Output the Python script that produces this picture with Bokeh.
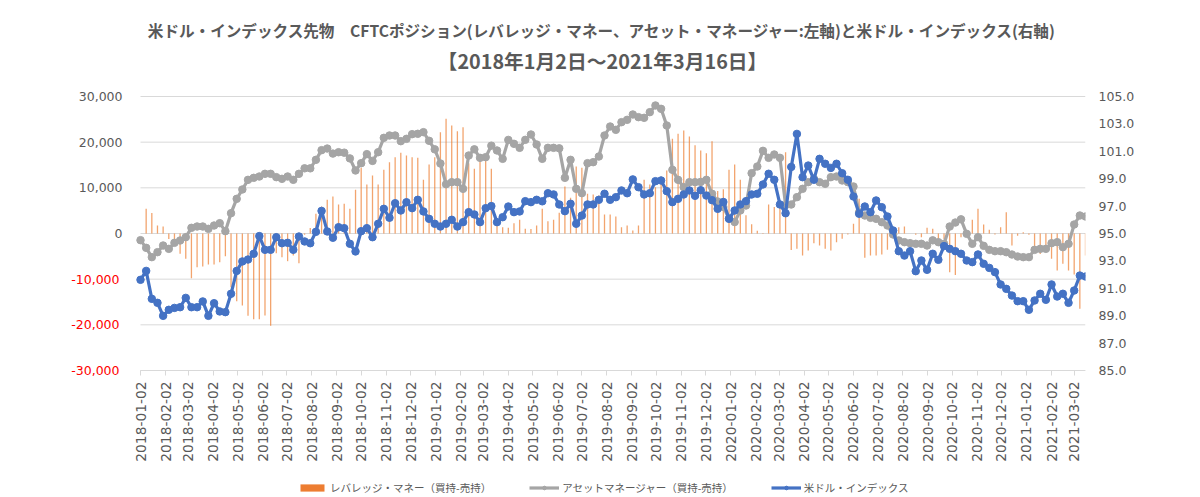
import math
import pandas as pd
from bokeh.plotting import figure
from bokeh.models import (Range1d, LinearAxis, FixedTicker, NumeralTickFormatter, PrintfTickFormatter,
                          DatetimeTickFormatter, Legend, LegendItem, Label, ColumnDataSource)
from bokeh.embed import file_html
from bokeh.resources import INLINE

# ---------------- data ----------------
START_DATE = "2018-01-02"   # weekly (Tuesday) observations

# Leveraged money net position (long - short), left axis
leveraged = [
    0, 5400, 4500, 1750, 1530, -1200, -1600, -4450, -5550, -9780,
    -7370, -7230, -6790, -6790, -6280, -4960, -11750, -14820, -15770, -18030,
    -18760, -18760, -17960, -20220, -4310, -5180, -6060, -4820, -6500, -300,
    1200, 4310, 5910, 7370, 8100, 6350, 6500, 5400, 9560, 14380,
    10730, 12700, 10730, 13940, 15620, 16720, 17670, 17080, 16720, 16570,
    11750, 15110, 16720, 22190, 25110, 23650, 22410, 23290, 15400, 14160,
    15990, 15990, 14160, 2000, 1390, 1240, 2260, 3000, 1020, 1000,
    1750, 5400, 2700, 3000, 4560, 10290, 7810, 14670, 14380, 8690,
    8540, 8320, 4160, 4160, 3720, 1390, 1750, 660, 1750, 11750,
    10730, 10150, 12480, 13800, 20730, 21830, 22560, 21240, 19300, 18180,
    17590, 20220, 9300, 9700, 13940, 15110, 11750, 4000, 2000, 600,
    100, 6350, 5800, 6700, 17810, -3600, -3360, -4820, -3720, -2120,
    -2630, -3360, -3720, -1900, -1170, -220, 2120, 7590, -5330, -4820,
    -4820, -4600, -3580, -1000, 1390, 1530, 0, -300, -800, 1240,
    1020, -2600, -1200, -8470, -9100, -800, -500, 3000, 5400, 1970,
    800, -220, 1390, 4670, -2630, -500, 300, -300, -3580, -4500,
    -3580, -5550, -8100, -6640, -8100, -9000, -16500, -4820,
]

# Asset manager net position (long - short), left axis
asset_mgr = [
    -1460, -3140, -5180, -4090, -2630, -3360, -2040, -1530, -800, 1240,
    1530, 1530, 1020, 1750, 2260, 510, 4450, 7590, 9640, 11750,
    12190, 12480, 13070, 13070, 12340, 11970, 12480, 11750, 13070, 14270,
    14270, 16130, 18250, 18600, 17500, 17800, 17700, 16450, 13800, 15400,
    17380, 15900, 17800, 20950, 21460, 21460, 20220, 20730, 21750, 21830,
    22190, 20300, 18430, 15330, 10800, 11240, 11240, 9780, 17080, 18430,
    16570, 16720, 19230, 18180, 16350, 20500, 19640, 18760, 20510, 21680,
    19490, 16350, 18760, 18760, 18650, 12190, 16130, 9780, 8830, 15400,
    15620, 16860, 21460, 23430, 22700, 24380, 24890, 26060, 25480, 25330,
    26570, 28030, 27300, 23650, 13940, 11750, 10150, 11240, 11240, 11300,
    11750, 8700, 7000, 5800, 3300, 2500, 5040, 6130, 13210, 14670,
    18100, 16570, 17300, 16570, 6200, 6350, 7960, 9780, 11240, 11970,
    11240, 10880, 12340, 12480, 11610, 11240, 10290, 4670, 3940, 3430,
    3210, 2480, 1750, -220, -1530, -1900, -2120, -2260, -2260, -2630,
    -1500, -1900, -2260, 1530, 2400, 3100, -70, -2260, -800, -2700,
    -3580, -3870, -3870, -4090, -4600, -5040, -5180, -5180, -3580, -3360,
    -3360, -2120, -1900, -2990, -2260, 1970, 3940, 3720,
]

# US dollar index, right axis
dxy = [
    91.62, 92.27, 90.23, 89.94, 88.99, 89.43, 89.57, 89.62, 90.30, 89.62,
    89.62, 90.04, 88.99, 89.91, 89.31, 89.26, 90.60, 92.27, 92.96, 93.10,
    93.52, 94.81, 93.81, 93.81, 94.73, 94.29, 94.32, 93.81, 94.78, 94.42,
    94.29, 95.12, 96.65, 95.15, 94.69, 95.46, 95.39, 94.25, 93.69, 95.17,
    95.39, 94.73, 95.71, 96.80, 96.15, 97.21, 96.68, 97.28, 96.85, 97.46,
    96.61, 96.07, 95.71, 95.51, 95.71, 96.00, 95.51, 95.83, 96.56, 96.39,
    95.83, 96.85, 97.00, 95.83, 96.19, 96.97, 96.56, 96.61, 97.36, 97.29,
    97.46, 97.35, 97.94, 97.85, 97.12, 96.63, 97.17, 95.71, 96.31, 97.12,
    97.12, 97.46, 97.90, 97.46, 97.65, 98.14, 97.94, 98.95, 98.38, 97.85,
    97.94, 98.82, 98.87, 98.09, 97.29, 97.53, 97.85, 98.14, 97.75, 98.16,
    97.77, 97.43, 96.80, 97.30, 96.07, 96.68, 97.12, 97.36, 97.85, 97.90,
    98.58, 99.36, 98.92, 97.12, 96.48, 99.86, 102.27, 99.11, 99.96, 98.92,
    100.45, 100.09, 99.79, 100.09, 99.40, 98.92, 97.70, 96.44, 96.97, 96.56,
    97.41, 96.92, 96.24, 95.22, 93.71, 93.39, 93.71, 92.25, 93.03, 92.35,
    93.52, 93.08, 94.08, 93.88, 93.71, 93.52, 93.03, 92.91, 93.47, 92.79,
    92.49, 92.18, 91.28, 90.96, 90.47, 90.06, 90.06, 89.43, 90.11, 90.60,
    90.16, 91.28, 90.40, 90.60, 89.94, 90.84, 91.93, 91.86,
]

left_ticks = [-30000, -20000, -10000, 0, 10000, 20000, 30000]
right_ticks = [85.0, 87.0, 89.0, 91.0, 93.0, 95.0, 97.0, 99.0, 101.0, 103.0, 105.0]
first_tick_month = "2018-01-01"
last_tick_month = "2021-03-01"

title_line1 = "米ドル・インデックス先物　CFTCポジション(レバレッジ・マネー、アセット・マネージャー:左軸)と米ドル・インデックス(右軸)"
title_line2 = "【2018年1月2日～2021年3月16日】"
legend_labels = ["レバレッジ・マネー（買持-売持）", "アセットマネージャー（買持-売持）", "米ドル・インデックス"]

# ---------------- layout constants (pixels) ----------------
W, H = 1200, 497
FRAME_L, FRAME_R = 128, 1085          # drawing frame (a little wider on the left for the first date label)
DATA_L = 140                          # pixel column of the first observation / start of gridlines
AX_TOP, AX_BOT = 96, 370              # pixel rows of the +30,000 / -30,000 lines
L_MIN, L_MAX = left_ticks[0], left_ticks[-1]
R_MIN, R_MAX = right_ticks[0], right_ticks[-1]
l_per_px = (L_MAX - L_MIN) / (AX_BOT - AX_TOP)
r_per_px = (R_MAX - R_MIN) / (AX_BOT - AX_TOP)
l_range = Range1d(L_MIN - (H - AX_BOT) * l_per_px, L_MAX + AX_TOP * l_per_px)
r_range = Range1d(R_MIN - (H - AX_BOT) * r_per_px, R_MAX + AX_TOP * r_per_px)

def left_val_at(py):
    return L_MAX - (py - AX_TOP) * l_per_px

# ---------------- build ----------------
dates = pd.date_range(START_DATE, periods=len(dxy), freq="7D")
epoch = pd.Timestamp("1970-01-01")
ms = [int((d - epoch) // pd.Timedelta(milliseconds=1)) for d in dates]
month_ticks = pd.date_range(first_tick_month, last_tick_month, freq="MS") + pd.Timedelta(days=1)
month_ms = [int((t - epoch) // pd.Timedelta(milliseconds=1)) for t in month_ticks]
ms_per_px = (ms[-1] - ms[0]) / (FRAME_R - DATA_L)
x_range = Range1d(ms[0] - (DATA_L - FRAME_L) * ms_per_px, ms[-1])

src = ColumnDataSource(data=dict(x=dates, lev=leveraged, am=asset_mgr, dxy=dxy))
grid_src = ColumnDataSource(data=dict(x0=[dates[0]] * len(left_ticks), x1=[dates[-1]] * len(left_ticks),
                                      y=left_ticks))

GREY_TXT = "#595959"
NUM_FONT = "DejaVu Sans"
JP_FONT = "Noto Sans CJK JP"
LBL_SIZE = "12.5px"

p = figure(frame_width=FRAME_R - FRAME_L, frame_height=H, x_axis_type="datetime",
           x_range=x_range, y_range=l_range,
           output_backend="svg", toolbar_location=None, title=None,
           min_border_left=FRAME_L, min_border_right=W - FRAME_R, min_border_top=0, min_border_bottom=0,
           background_fill_color="white", border_fill_color="white", outline_line_color=None)
p.extra_y_ranges = {"dxy": r_range}

# horizontal gridlines spanning only the data period
p.xgrid.grid_line_color = None
p.ygrid.grid_line_color = None
p.segment(x0="x0", x1="x1", y0="y", y1="y", source=grid_src, line_color="#D9D9D9", line_width=1)

# bars
day_ms = 86400000
bars = p.vbar(x="x", top="lev", width=1.6 * day_ms, source=src,
              fill_color="#ED7D31", line_color=None, fill_alpha=0.7)
bar_proxy = p.vbar(x="x", top="lev", width=0, source=src,
                   fill_color="#ED7D31", line_color=None, fill_alpha=1.0)

# asset manager line
g_line = p.line(x="x", y="am", source=src, line_color="#A5A5A5", line_width=3.2)
g_pts = p.scatter(x="x", y="am", source=src, size=7.5, fill_color="#A5A5A5", line_color="#A5A5A5")

# dollar index line
b_line = p.line(x="x", y="dxy", source=src, line_color="#4472C4", line_width=3.2, y_range_name="dxy")
b_pts = p.scatter(x="x", y="dxy", source=src, size=7.5, fill_color="#4472C4", line_color="#4472C4",
                  y_range_name="dxy")

# x axis, pinned on the -30,000 line
xa = p.xaxis[0]
xa.fixed_location = L_MIN
xa.bounds = (ms[0], ms[-1])
xa.ticker = FixedTicker(ticks=month_ms)
fmt = "%Y-%m-%d"
xa.formatter = DatetimeTickFormatter(microseconds=fmt, milliseconds=fmt, seconds=fmt, minsec=fmt,
                                     minutes=fmt, hourmin=fmt, hours=fmt, days=fmt, months=fmt, years=fmt)
xa.major_label_orientation = math.pi / 2
xa.major_label_text_font = NUM_FONT
xa.major_label_text_font_size = "13.8px"
xa.major_label_text_color = GREY_TXT
xa.axis_line_color = "#D9D9D9"
xa.major_tick_line_color = "#D9D9D9"
xa.major_tick_out = 5
xa.major_tick_in = 0
xa.minor_tick_line_color = None
xa.major_label_standoff = 6

# left axis (grey labels, zero and positives); labels end at x = 122
LABEL_GAP = FRAME_L - 122
ya = p.yaxis[0]
ya.ticker = FixedTicker(ticks=left_ticks)
ya.formatter = NumeralTickFormatter(format="0,0")
ya.major_label_overrides = {t: " " for t in left_ticks if t < 0}
ya.axis_line_color = None
ya.major_tick_line_color = None
ya.major_tick_out = 0
ya.major_tick_in = 0
ya.minor_tick_line_color = None
ya.major_label_standoff = LABEL_GAP
ya.major_label_text_font = NUM_FONT
ya.major_label_text_font_size = LBL_SIZE
ya.major_label_text_color = GREY_TXT

# second left axis carrying the red negative labels, pulled back onto the same column
neg_ticks = [t for t in left_ticks if t < 0]
ya2 = LinearAxis(ticker=FixedTicker(ticks=neg_ticks), formatter=NumeralTickFormatter(format="0,0"))
ya2.axis_line_color = None
ya2.major_tick_line_color = None
ya2.major_tick_out = 0
ya2.major_tick_in = 0
ya2.minor_tick_line_color = None
ya2.major_label_standoff = -44
ya2.major_label_text_font = NUM_FONT
ya2.major_label_text_font_size = LBL_SIZE
ya2.major_label_text_color = "#FF0000"
p.add_layout(ya2, "left")

# right axis
ra = LinearAxis(y_range_name="dxy", ticker=FixedTicker(ticks=right_ticks),
                formatter=PrintfTickFormatter(format="%.1f"))
ra.axis_line_color = None
ra.major_tick_line_color = None
ra.major_tick_out = 0
ra.major_tick_in = 0
ra.minor_tick_line_color = None
ra.major_label_standoff = 13
ra.major_label_text_font = NUM_FONT
ra.major_label_text_font_size = LBL_SIZE
ra.major_label_text_color = GREY_TXT
p.add_layout(ra, "right")

# legend, inside the (full-height) frame below the date labels
legend = Legend(items=[
    LegendItem(label=legend_labels[0], renderers=[bar_proxy]),
    LegendItem(label=legend_labels[1], renderers=[g_line, g_pts]),
    LegendItem(label=legend_labels[2], renderers=[b_line, b_pts]),
], orientation="horizontal", location=(297 - FRAME_L, 2),
    label_text_font=JP_FONT, label_text_font_size="10.5px", label_text_color=GREY_TXT,
    glyph_width=30, glyph_height=9, label_standoff=3, spacing=38, padding=0, margin=0,
    border_line_color=None, background_fill_color=None, background_fill_alpha=0)
p.add_layout(legend, "center")

# two-line title
TITLE_CX = 602
for txt, py, size in [(title_line1, 29, "15.6px"), (title_line2, 60, "19.8px")]:
    p.add_layout(Label(x=ms[0], y=left_val_at(py), x_offset=TITLE_CX - DATA_L, text=txt,
                       text_align="center", text_baseline="middle", text_font=JP_FONT,
                       text_font_size=size, text_font_style="bold", text_color=GREY_TXT))

open("out.html", "w").write(file_html(p, INLINE))
